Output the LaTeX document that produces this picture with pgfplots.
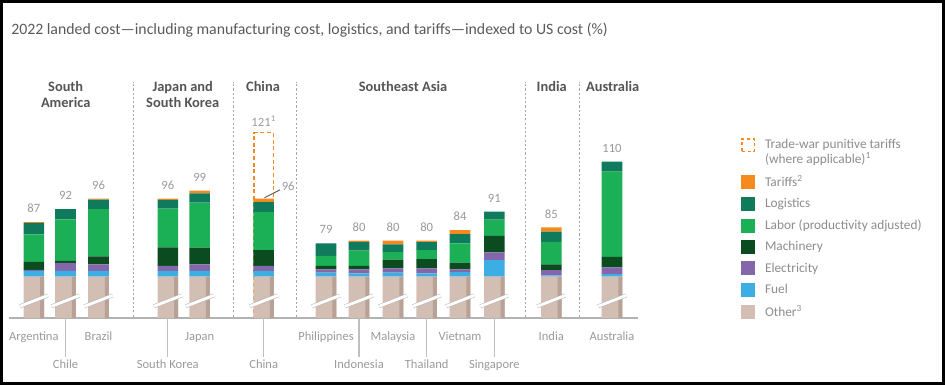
\documentclass[border=0pt]{standalone}
\usepackage{fontspec}
\setmainfont{Carlito}
\usepackage{pgfplots}
\usepackage{pgfplotstable}
\pgfplotsset{compat=1.18}

\definecolor{cTar}{HTML}{F58A1F}
\definecolor{cLog}{HTML}{0F7A5C}
\definecolor{cLab}{HTML}{1CB056}
\definecolor{cMach}{HTML}{0A4C1F}
\definecolor{cElec}{HTML}{8466AA}
\definecolor{cFuel}{HTML}{3DAEE3}
\definecolor{cOth}{HTML}{D2BEB2}
\definecolor{cOthD}{HTML}{B8A295}
\definecolor{cTxt}{HTML}{9A9A9A}
\definecolor{cLeg}{HTML}{8C8C8C}
\definecolor{cHdr}{HTML}{555555}
\definecolor{cTitle}{HTML}{5A5A5A}

\pgfdeclareplotmark{brk}{%
  \pgfsetbuttcap
  \pgfsetlinewidth{2.9pt}\pgfsetstrokecolor{black!28}%
  \pgfpathmoveto{\pgfqpoint{-10.6pt}{-4.1pt}}\pgfpathlineto{\pgfqpoint{10.6pt}{4.1pt}}\pgfusepath{stroke}%
  \pgfsetlinewidth{2.1pt}\pgfsetstrokecolor{white}%
  \pgfpathmoveto{\pgfqpoint{-10.6pt}{-4.1pt}}\pgfpathlineto{\pgfqpoint{10.6pt}{4.1pt}}\pgfusepath{stroke}%
}

% segment values (index, US = 100); "Other" shown on a broken axis
\pgfplotstableread{
x      oth   fuel  elec  mach  lab   log   tar
33.8   66.3  2.2   0.4   3.0   10.5  4.3   0.3
65.5   66.3  2.2   3.0   0.8   15.8  3.9   0.0
98.5   66.3  2.2   2.5   3.0   18.0  3.6   0.4
167.8  66.3  2.2   1.9   7.0   14.8  3.3   0.5
199.7  66.3  2.2   2.5   6.3   17.1  3.6   1.0
263.7  66.3  2.2   1.9   6.0   14.5  3.7   1.4
326.0  66.3  1.5   1.3   1.3   3.8   4.8   0.0
359.0  66.3  1.3   1.5   1.3   5.8   3.3   0.5
393.0  66.3  1.5   1.7   3.3   2.8   3.0   1.4
426.7  66.3  1.3   1.9   3.5   3.4   3.0   0.6
460.0  66.3  1.7   1.1   2.5   7.4   3.5   1.5
494.3  66.3  6.3   2.9   6.3   6.2   3.0   0.0
551.3  66.3  0.5   2.0   2.2   8.5   3.9   1.6
612.0  66.3  1.0   2.5   4.0   32.4  3.8   0.0
}\landed

\pgfplotsset{base/.style={
  at={(6.75pt,50.25pt)}, anchor=south west, scale only axis,
  width=471.75pt, height=177.2pt,
  xmin=9, xmax=638, ymin=50.6, ymax=140.38,
  enlargelimits=false,
}}

\begin{document}
\begin{tikzpicture}[x=0.75pt,y=0.75pt]
\useasboundingbox (0,0) rectangle (945,385);

% trade-war box (drawn first, bar covers its lower part)
\begin{axis}[base, hide axis]
\addplot[ybar, bar width=14.3pt, bar shift=0pt, draw=cTar, line width=1.1pt,
  dash pattern=on 3pt off 2pt, fill=none] coordinates {(263.7,121)};
\end{axis}

% main stacked bars
\begin{axis}[base, ybar stacked, bar width=15.4pt,
  axis x line*=bottom, axis y line=none,
  x axis line style={-, draw=black!30, line width=1.1pt},
  xtick={33.8,98.5,199.7,326,393,460,551.3,612},
  xticklabels={Argentina,Brazil,Japan,Philippines,Malaysia,Vietnam,India,Australia},
  major tick length=0pt,
  xticklabel style={font=\fontsize{9.4}{11}\selectfont, text=cTxt, anchor=base, yshift=-16.5pt},
  extra x ticks={65.5,167.8,263.7,359,426.7,494.3},
  extra x tick labels={Chile,South Korea,China,Indonesia,Thailand,Singapore},
  extra x tick style={major tick length=29pt, tick align=outside,
    major tick style={draw=black!25, line width=1pt},
    xticklabel style={yshift=8pt}},
]
\addplot[fill=cOth, draw=none] table[x=x,y=oth]{\landed};
\addplot[fill=cFuel, draw=none] table[x=x,y=fuel]{\landed};
\addplot[fill=cElec, draw=none] table[x=x,y=elec]{\landed};
\addplot[fill=cMach, draw=none] table[x=x,y=mach]{\landed};
\addplot[fill=cLab, draw=none] table[x=x,y=lab]{\landed};
\addplot[fill=cLog, draw=none] table[x=x,y=log]{\landed};
\addplot[fill=cTar, draw=none] table[x=x,y=tar]{\landed};
\end{axis}

% overlays: shading, axis breaks, value labels, separators, legend
\begin{axis}[base, hide axis,
  legend style={at={(1.1638,0.7673)}, anchor=north west, draw=none, fill=none,
    inner sep=0pt, outer sep=0pt, row sep=3.5pt, column sep=5.5pt,
    font=\fontsize{10}{11.25}\selectfont, text=cLeg,
    cells={anchor=west, align=left, inner sep=0pt}},
  legend cell align=left,
  legend image code/.code={\fill[#1] (0pt,-5.25pt) rectangle (10.5pt,5.25pt);},
]
\addplot[ybar, bar width=3pt, bar shift=6.2pt, fill=cOthD, draw=none, forget plot]
  table[x=x,y=oth]{\landed};
\addplot[only marks, mark=brk, forget plot] coordinates {
 (33.8,57.1) (65.5,57.1) (98.5,57.1) (167.8,57.1) (199.7,57.1) (263.7,57.1)
 (326,57.1) (359,57.1) (393,57.1) (426.7,57.1) (460,57.1) (494.3,57.1)
 (551.3,57.1) (612,57.1)};
\addplot[draw=none, mark=none, forget plot, nodes near coords, point meta=explicit symbolic,
  nodes near coords style={font=\fontsize{9.5}{11}\selectfont, text=cTxt, anchor=base, yshift=7pt, inner sep=0pt}]
  coordinates {
 (33.8,87)[87] (65.5,92)[92] (98.5,96)[96] (167.8,96)[96] (199.7,99)[99]
 (326,79)[79] (359,80)[80] (393,80)[80] (426.7,80)[80] (460,84)[84] (494.3,91)[91]
 (551.3,85)[85] (612,110)[110]};
\addplot[draw=none, mark=none, forget plot, nodes near coords, point meta=explicit symbolic,
  nodes near coords style={font=\fontsize{9.5}{11}\selectfont, text=cTxt, anchor=base, yshift=4.8pt, inner sep=0pt}]
  coordinates {(263.7,121)[{121\textsuperscript{1}}]};
\draw[black!65, line width=0.7pt] (axis cs:264.5,96.3) -- (axis cs:280,99.3);
\node[anchor=west, inner sep=0pt, font=\fontsize{9.5}{11}\selectfont, text=cTxt] at (axis cs:281.5,100.5) {96};
\pgfplotsinvokeforeach{133.3,233.3,296.7,525.3,579.3}{
  \draw[black!35, line width=1pt, dash pattern=on 1.6pt off 1.6pt] (axis cs:#1,51.1) -- (axis cs:#1,140.38);
}
\addlegendimage{legend image code/.code={\draw[cTar, line width=1.1pt, dash pattern=on 2.5pt off 1.9pt] (0.55pt,0.9pt) rectangle (9.95pt,10.3pt);}}
\addlegendentry{Trade-war punitive tariffs\\(where applicable)\textsuperscript{1}}
\addlegendimage{fill=cTar, draw=none}\addlegendentry{Tariffs\textsuperscript{2}}
\addlegendimage{fill=cLog, draw=none}\addlegendentry{Logistics}
\addlegendimage{fill=cLab, draw=none}\addlegendentry{Labor (productivity adjusted)}
\addlegendimage{fill=cMach, draw=none}\addlegendentry{Machinery}
\addlegendimage{fill=cElec, draw=none}\addlegendentry{Electricity}
\addlegendimage{fill=cFuel, draw=none}\addlegendentry{Fuel}
\addlegendimage{fill=cOth, draw=none}\addlegendentry{Other\textsuperscript{3}}
\end{axis}

% group headers
\begin{scope}[every node/.style={font=\bfseries\fontsize{10.8}{11.7}\selectfont, text=cHdr, align=center, inner sep=0pt}]
\node at (65.7,290.5) {South\\America};
\node at (182.7,290.5) {Japan and\\South Korea};
\node at (263,298.3) {China};
\node at (403,298.3) {Southeast Asia};
\node at (551.7,298.3) {India};
\node at (612.7,298.3) {Australia};
\end{scope}

% title
\node[anchor=base west, inner sep=0pt, font=\fontsize{11.85}{14}\selectfont, text=cTitle] at (11,350.5)
  {2022 landed cost—including manufacturing cost, logistics, and tariffs—indexed to US cost (\%)};

% frame
\draw[line width=1.9pt] (1.25,1.25) rectangle (943.75,383.75);
\end{tikzpicture}
\end{document}
